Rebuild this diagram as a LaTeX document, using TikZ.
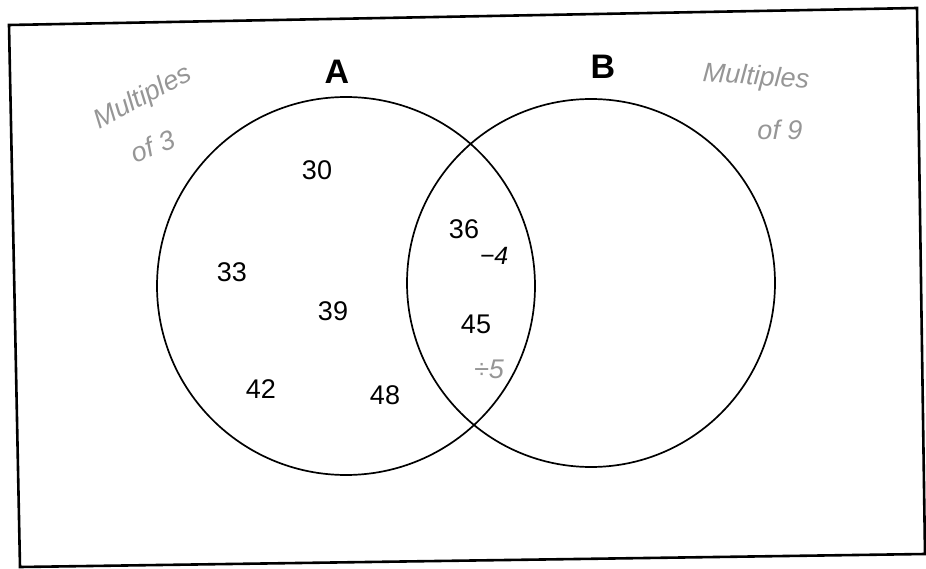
\documentclass[tikz,border=0pt]{standalone}
\usepackage{fontspec}
\setmainfont{Liberation Sans}
\definecolor{pencil}{RGB}{150,150,150}
\begin{document}
\begin{tikzpicture}[x=1pt, y=-1pt,
  num/.style={font=\fontsize{27}{30}\selectfont},
  setname/.style={font=\fontsize{34}{36}\selectfont\bfseries},
  note/.style={text=pencil, inner sep=1pt, font=\fontsize{27}{29}\selectfont\itshape},
  step note/.style={inner sep=1pt, font=\fontsize{25}{27}\selectfont\itshape}]

	\useasboundingbox (0,0) rectangle (926,569);

	% Circle dimensions
	\def\rA{189}
	\def\rB{184}

	% Frame
	\draw[line width=2.6pt, line join=miter] (9,25) -- (917,8) -- (925,554) -- (20,567) -- cycle;

	% Circles
	\draw[line width=1.7pt] (346,286) circle[radius=\rA];
	\draw[line width=1.7pt] (591,283) circle[radius=\rB];

	% Set names
	\node[setname] (nameA) at (337,72) {A};
	\node[setname] (nameB) at (603,67) {B};

	% Labels
	\node[note, rotate=28] (multA) at (143,98) {Multiples};
	\node[note, rotate=22] (ofA) at (153,146) {of 3};
	\node[note, rotate=-4] (multB) at (756,78) {Multiples};
	\node[note] (ofB) at (780,130) {of 9};

	% Only A
	\node[num] (n30) at (317,170) {30};
	\node[num] (n33) at (232,272) {33};
	\node[num] (n39) at (333,311) {39};
	\node[num] (n42) at (261,389) {42};
	\node[num] (n48) at (385,395) {48};

	% A and B
	\node[num] (n36) at (464,229) {36};
	\node[num] (n45) at (476,324) {45};
	\node[step note] (minus4) at (494,256) {−4};
	\node[note] (div5) at (489,369) {÷5};

\end{tikzpicture}
\end{document}
